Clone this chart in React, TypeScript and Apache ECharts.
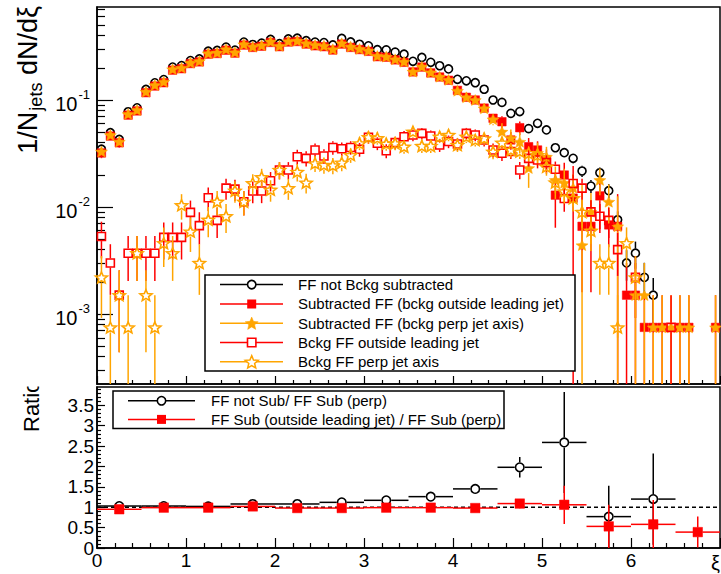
import React, { useEffect, useRef } from "react";
import * as echarts from "echarts";

const binCenters = [0.05,0.15,0.25,0.35,0.45,0.55,0.65,0.75,0.85,0.95,1.05,1.15,1.25,1.35,1.45,1.55,1.65,1.75,1.85,1.95,2.05,2.15,2.25,2.35,2.45,2.55,2.65,2.75,2.85,2.95,3.05,3.15,3.25,3.35,3.45,3.55,3.65,3.75,3.85,3.95,4.05,4.15,4.25,4.35,4.45,4.55,4.65,4.75,4.85,4.95,5.05,5.15,5.25,5.35,5.45,5.55,5.65,5.75,5.85,5.95,6.05,6.15,6.25,6.35,6.45,6.55,6.65,6.75,6.85,6.95];

const ffNotSub = [0.0347,0.0495,0.0428,0.0776,0.0845,0.1255,0.1448,0.1552,0.2030,0.2095,
 0.2335,0.2420,0.2860,0.2905,0.3120,0.2925,0.3480,0.3300,0.3400,0.3680,
 0.3360,0.3720,0.3780,0.3580,0.3480,0.3440,0.3270,0.3760,0.3490,0.3320,
 0.3210,0.2950,0.2940,0.2800,0.2680,0.2300,0.2500,0.2250,0.2090,0.1950,
 0.1560,0.1510,0.1450,0.1260,0.1000,0.0950,0.0750,0.0780,0.0540,0.0605,
 0.0525,0.0358,0.0322,0.0285,0.0217,0.0157,0.0209,0.0142,0.0076,0.0030,
 0.0037,0.0022,0.0015,null,null,null,null,null,null,null];
const ffNotSubErr = [0.0032,0.0039,0.0036,0.0048,0.0050,0.0061,0.0066,0.0068,0.0078,0.0079,
 0.0084,0.0085,0.0093,0.0093,0.0097,0.0094,0.0102,0.0099,0.0101,0.0105,
 0.0100,0.0106,0.0106,0.0104,0.0102,0.0102,0.0099,0.0106,0.0102,0.0100,
 0.0098,0.0094,0.0094,0.0092,0.0090,0.0083,0.0087,0.0082,0.0079,0.0076,
 0.0068,0.0067,0.0066,0.0061,0.0055,0.0053,0.0047,0.0048,0.0040,0.0043,
 0.0040,0.0033,0.0031,0.0029,0.0026,0.0022,0.0025,0.0021,0.0015,0.00095,
 0.00105,0.00081,0.00067,null,null,null,null,null,null,null];

const ffSubOut = [0.0320,0.0460,0.0398,0.0722,0.0790,0.1170,0.1350,0.1450,0.1900,0.1960,
 0.2190,0.2270,0.2680,0.2720,0.2920,0.2740,0.3260,0.3100,0.3180,0.3450,
 0.3150,0.3480,0.3520,0.3330,0.3210,0.3150,0.2930,0.3330,0.3100,0.2960,
 0.2850,0.2540,0.2510,0.2370,0.2250,0.1830,0.2030,0.1790,0.1640,0.1530,
 0.1230,0.1060,0.1000,0.0840,0.0675,0.0626,0.0423,0.0551,0.0366,0.0341,
 0.0275,0.0129,0.0199,0.0121,0.0066,0.0066,0.0127,0.0068,0.0066,0.0015,
 0.0015,0.00075,0.00075,0.00075,null,0.00075,0.00075,null,null,0.00075];
const ffSubOutErr = [0.0034,0.0041,0.0038,0.0051,0.0053,0.0065,0.0069,0.0072,0.0083,0.0084,
 0.0089,0.0091,0.0098,0.0099,0.0103,0.0099,0.0108,0.0105,0.0107,0.0112,
 0.0107,0.0112,0.0113,0.0110,0.0108,0.0107,0.0104,0.0112,0.0107,0.0104,
 0.0102,0.0097,0.0097,0.0094,0.0092,0.0085,0.0089,0.0084,0.0080,0.0078,
 0.0070,0.0068,0.0066,0.0062,0.0065,0.0080,0.0080,0.0080,0.0075,0.0070,
 0.0070,0.0065,0.0060,0.0120,0.0050,0.0050,0.0065,0.0026,0.0066,0.0015,
 0.0015,0.00075,0.00075,0.00075,null,0.00075,0.00075,null,null,0.00075];

const ffSubPerp = [0.0330,0.0471,0.0408,0.0740,0.0806,0.1196,0.1380,0.1480,0.1940,0.2000,
 0.2230,0.2310,0.2730,0.2770,0.2980,0.2790,0.3320,0.3150,0.3240,0.3510,
 0.3200,0.3540,0.3580,0.3390,0.3270,0.3210,0.2980,0.3390,0.3150,0.3000,
 0.2890,0.2580,0.2540,0.2400,0.2280,0.1840,0.2050,0.1810,0.1650,0.1540,
 0.1220,0.1060,0.1000,0.0835,0.0660,0.0506,0.0441,0.0407,0.0231,0.0320,
 0.0295,0.0179,0.0168,0.0151,0.0044,0.0090,0.0179,0.0112,0.0066,null,
 0.0015,0.0015,0.00075,0.00075,0.00075,0.00075,0.00075,null,null,0.00075];
const ffSubPerpErr = [0.0034,0.0041,0.0038,0.0051,0.0053,0.0065,0.0069,0.0072,0.0083,0.0084,
 0.0089,0.0091,0.0098,0.0099,0.0103,0.0099,0.0108,0.0105,0.0107,0.0112,
 0.0107,0.0112,0.0113,0.0110,0.0108,0.0107,0.0104,0.0112,0.0107,0.0104,
 0.0102,0.0097,0.0097,0.0094,0.0092,0.0085,0.0089,0.0084,0.0080,0.0078,
 0.0070,0.0068,0.0066,0.0062,0.0080,0.0100,0.0090,0.0090,0.0080,0.0080,
 0.0070,0.0060,0.0060,0.0050,0.0120,0.0045,0.0050,0.0050,0.0060,null,
 0.0015,0.0015,0.00075,0.00075,0.00075,0.00075,0.00075,null,null,0.00075];

const bkgOut = [0.0053,0.0030,0.0015,0.0037,0.0037,0.0037,0.0037,0.0052,0.0052,0.0052,
 0.0089,0.0067,0.0122,0.0075,0.0150,0.0147,0.0112,0.0141,0.0141,0.0176,
 0.0222,0.0222,0.0295,0.0285,0.0341,0.0300,0.0360,0.0350,0.0360,0.0346,
 0.0448,0.0394,0.0336,0.0400,0.0454,0.0471,0.0488,0.0461,0.0380,0.0410,
 0.0388,0.0488,0.0471,0.0423,0.0341,0.0318,0.0330,0.0222,0.0285,0.0275,
 0.0260,0.0225,0.0120,0.0166,0.0150,0.0090,0.0082,0.0075,0.0040,null,
 0.0022,null,null,null,0.00075,null,null,null,null,null];
const bkgOutErr = [0.00199,0.00149,0.00106,0.00166,0.00166,0.00166,0.00166,0.00197,0.00197,0.00197,
 0.00258,0.00223,0.00301,0.00236,0.00334,0.00331,0.00289,0.00324,0.00324,0.00362,
 0.00407,0.00407,0.00469,0.00461,0.00504,0.00473,0.00518,0.00511,0.00518,0.00508,
 0.00578,0.00542,0.00500,0.00546,0.00582,0.00592,0.00603,0.00586,0.00532,0.00553,
 0.00538,0.00603,0.00592,0.00561,0.00504,0.00487,0.00496,0.00407,0.00461,0.00453,
 0.00440,0.00409,0.00299,0.00352,0.00334,0.00259,0.00247,0.00236,0.00173,null,
 0.00128,null,null,null,0.00075,null,null,null,null,null];

const bkgPerp = [0.0022,0.00075,0.0015,0.00075,0.0037,0.0015,0.00075,0.0046,0.0037,0.0104,
 0.0059,0.0030,0.0076,0.0112,0.0082,0.0142,0.0112,0.0167,0.0190,0.0145,
 0.0222,0.0150,0.0213,0.0169,0.0256,0.0247,0.0245,0.0260,0.0306,0.0394,
 0.0450,0.0440,0.0390,0.0394,0.0366,0.0506,0.0372,0.0372,0.0454,0.0471,
 0.0380,0.0454,0.0423,0.0438,0.0329,0.0400,0.0341,0.0330,0.0318,0.0306,
 0.0238,0.0170,0.0140,0.0121,0.0090,0.0060,0.0030,0.0030,0.00075,0.0046,
 0.0022,null,null,null,null,null,null,null,null,null];
const bkgPerpErr = [0.00128,0.00075,0.00106,0.00075,0.00166,0.00106,0.00075,0.00185,0.00166,0.00278,
 0.00210,0.00149,0.00238,0.00289,0.00247,0.00325,0.00289,0.00353,0.00376,0.00329,
 0.00407,0.00334,0.00398,0.00355,0.00437,0.00429,0.00427,0.00440,0.00477,0.00542,
 0.00579,0.00573,0.00539,0.00542,0.00522,0.00614,0.00526,0.00526,0.00582,0.00592,
 0.00532,0.00582,0.00561,0.00571,0.00495,0.00546,0.00504,0.00496,0.00487,0.00477,
 0.00421,0.00356,0.00323,0.00300,0.00259,0.00211,0.00149,0.00149,0.00075,0.00185,
 0.00128,null,null,null,null,null,null,null,null,null];

const ratioX = [0.25,0.75,1.25,1.75,2.25,2.75,3.25,3.75,4.25,4.75,5.25,5.75,6.25,6.75];
const ratioXErr = [0.25,0.25,0.25,0.25,0.25,0.25,0.25,0.25,0.25,0.25,0.25,0.25,0.25,0.25];
const ratioNotSub = [1.03,1.03,1.02,1.08,1.08,1.12,1.17,1.26,1.45,1.98,2.59,0.77,1.20,null];
const ratioNotSubErr = [0.01,0.01,0.01,0.01,0.01,0.015,0.02,0.03,0.05,0.25,1.24,0.76,1.12,null];
const ratioSubOut = [0.95,0.99,0.99,1.02,0.98,0.98,0.99,0.99,0.98,1.09,1.06,0.53,0.58,0.39];
const ratioSubOutErr = [0.01,0.01,0.01,0.01,0.01,0.01,0.02,0.02,0.03,0.12,0.47,0.53,0.6,0.38];

const topExponents = [-3, -2, -1];
const ratioMajorTicks = [0, 0.5, 1, 1.5, 2, 2.5, 3, 3.5];
const ratioMinorTicks = [0.1,0.2,0.3,0.4,0.6,0.7,0.8,0.9,1.1,1.2,1.3,1.4,1.6,1.7,1.8,1.9,2.1,2.2,2.3,2.4,2.6,2.7,2.8,2.9,3.1,3.2,3.3,3.4,3.6,3.7,3.8,3.9];
const xLabelValues = [0, 1, 2, 3, 4, 5, 6];

const legendTopLabels = [
  "FF not Bckg subtracted",
  "Subtracted FF (bckg outside leading jet)",
  "Subtracted FF (bckg perp jet axis)",
  "Bckg FF outside leading jet",
  "Bckg FF perp jet axis",
];
const legendBottomLabels = [
  "FF not Sub/ FF Sub (perp)",
  "FF Sub (outside leading jet) / FF Sub (perp)",
];

const FONT = '"Liberation Sans", Arial, Helvetica, sans-serif';
const Y_MIN = -3.654;
const Y_MAX = -0.131;
const R_MAX = 3.95;
const BLACK = "#000000";
const RED = "#ff0000";
const ORANGE = "#ffa500";
const OPEN_FILL = "rgba(255,255,255,0)";

const STAR_PTS = [[10,0],[12.645,6.359],[19.511,6.91],[14.28,11.391],[15.878,18.09],[10,14.5],[4.122,18.09],[5.72,11.391],[0.489,6.91],[7.355,6.359]];
const STAR_PATH = "path://M10 0L12.645 6.359L19.511 6.91L14.28 11.391L15.878 18.09L10 14.5L4.122 18.09L5.72 11.391L0.489 6.91L7.355 6.359Z";

function minorLogTicks() {
  const out: number[] = [];
  for (let n = -4; n <= -1; n++) {
    for (let m = 2; m <= 9; m++) {
      const v = Math.log10(m) + n;
      if (v > Y_MIN && v < Y_MAX) out.push(v);
    }
  }
  return out;
}

function seg(x1: number, y1: number, x2: number, y2: number, color: string) {
  return { type: "line", shape: { x1, y1, x2, y2 }, style: { stroke: color, lineWidth: 1.5 } };
}

type Spec = { vals: (number | null)[]; errs: (number | null)[]; color: string; symbol: string; size: any; filled: boolean; gap: number };

const topSpecs: Spec[] = [
  { vals: ffNotSub, errs: ffNotSubErr, color: BLACK, symbol: "circle", size: 8, filled: false, gap: 4.6 },
  { vals: ffSubOut, errs: ffSubOutErr, color: RED, symbol: "rect", size: 8.5, filled: true, gap: 4.3 },
  { vals: ffSubPerp, errs: ffSubPerpErr, color: ORANGE, symbol: STAR_PATH, size: [12, 11.4], filled: true, gap: 5 },
  { vals: bkgOut, errs: bkgOutErr, color: RED, symbol: "rect", size: 8, filled: false, gap: 4.6 },
  { vals: bkgPerp, errs: bkgPerpErr, color: ORANGE, symbol: STAR_PATH, size: [12, 11.4], filled: false, gap: 5 },
];

function buildTopSeries() {
  const series: any[] = [];
  topSpecs.forEach((sp, si) => {
    const errData: any[] = [];
    const ptData: any[] = [];
    sp.vals.forEach((v, i) => {
      if (v == null) return;
      ptData.push([binCenters[i], Math.log10(v)]);
      const e = sp.errs[i];
      if (e != null) errData.push([binCenters[i], Math.log10(v), e, v]);
    });
    series.push({
      type: "custom",
      xAxisIndex: 0,
      yAxisIndex: 0,
      z: 10 + si * 2,
      clip: true,
      silent: true,
      dimensions: ["x", "ly", "e", "v"],
      encode: { x: 0, y: 1 },
      renderItem: (_p: any, api: any) => {
        const x = api.value(0);
        const ly = api.value(1);
        const e = api.value(2);
        const v = api.value(3);
        const c = api.coord([x, ly]);
        const hi = api.coord([x, Math.min(Math.log10(v + e), Y_MAX)]);
        const low = v - e;
        const lo = api.coord([x, low > 0 ? Math.max(Math.log10(low), Y_MIN) : Y_MIN]);
        const children: any[] = [];
        if (hi[1] < c[1] - sp.gap) children.push(seg(c[0], hi[1], c[0], c[1] - sp.gap, sp.color));
        if (lo[1] > c[1] + sp.gap) children.push(seg(c[0], c[1] + sp.gap, c[0], lo[1], sp.color));
        return { type: "group", children };
      },
      data: errData,
    });
    series.push({
      type: "scatter",
      xAxisIndex: 0,
      yAxisIndex: 0,
      z: 11 + si * 2,
      silent: true,
      symbol: sp.symbol,
      symbolSize: sp.size,
      symbolKeepAspect: true,
      itemStyle: sp.filled
        ? { color: sp.color, borderColor: sp.color, borderWidth: 0.5, opacity: 1 }
        : { color: OPEN_FILL, borderColor: sp.color, borderWidth: 1.6, opacity: 1 },
      data: ptData,
    });
  });
  return series;
}

function buildRatioSeries() {
  const specs = [
    { vals: ratioNotSub, errs: ratioNotSubErr, color: BLACK, symbol: "circle", size: 8.5, filled: false, gap: 5 },
    { vals: ratioSubOut, errs: ratioSubOutErr, color: RED, symbol: "rect", size: 9.5, filled: true, gap: 4.7 },
  ];
  const series: any[] = [
    {
      type: "line",
      xAxisIndex: 1,
      yAxisIndex: 2,
      z: 5,
      silent: true,
      symbol: "none",
      lineStyle: { color: BLACK, width: 1.3, type: [4, 3] },
      data: [[0, 1], [7, 1]],
    },
  ];
  specs.forEach((sp, si) => {
    const errData: any[] = [];
    const ptData: any[] = [];
    sp.vals.forEach((v, i) => {
      if (v == null) return;
      ptData.push([ratioX[i], v]);
      errData.push([ratioX[i], v, sp.errs[i], ratioXErr[i]]);
    });
    series.push({
      type: "custom",
      xAxisIndex: 1,
      yAxisIndex: 2,
      z: 10 + si * 2,
      clip: true,
      silent: true,
      dimensions: ["x", "y", "e", "xe"],
      encode: { x: 0, y: 1 },
      renderItem: (_p: any, api: any) => {
        const x = api.value(0);
        const y = api.value(1);
        const e = api.value(2);
        const xe = api.value(3);
        const c = api.coord([x, y]);
        const hi = api.coord([x, Math.min(y + e, R_MAX)]);
        const lo = api.coord([x, Math.max(y - e, 0)]);
        const l = api.coord([x - xe, y]);
        const r = api.coord([x + xe, y]);
        const g = sp.gap;
        const children: any[] = [];
        if (hi[1] < c[1] - g) children.push(seg(c[0], hi[1], c[0], c[1] - g, sp.color));
        if (lo[1] > c[1] + g) children.push(seg(c[0], c[1] + g, c[0], lo[1], sp.color));
        if (l[0] < c[0] - g) children.push(seg(l[0], c[1], c[0] - g, c[1], sp.color));
        if (r[0] > c[0] + g) children.push(seg(c[0] + g, c[1], r[0], c[1], sp.color));
        return { type: "group", children };
      },
      data: errData,
    });
    series.push({
      type: "scatter",
      xAxisIndex: 1,
      yAxisIndex: 2,
      z: 11 + si * 2,
      silent: true,
      symbol: sp.symbol,
      symbolSize: sp.size,
      itemStyle: sp.filled
        ? { color: sp.color, borderColor: sp.color, borderWidth: 0.5, opacity: 1 }
        : { color: OPEN_FILL, borderColor: sp.color, borderWidth: 1.6, opacity: 1 },
      data: ptData,
    });
  });
  return series;
}

function starPolygon(cx: number, cy: number, size: number, fill: string, stroke: string, lw: number) {
  const s = size / 19.02;
  return {
    type: "polygon",
    z: 102,
    shape: { points: STAR_PTS.map(([px, py]) => [cx + (px - 10) * s, cy + (py - 9.045) * s]) },
    style: { fill, stroke, lineWidth: lw },
  };
}

function legendMarker(kind: string, cx: number, cy: number) {
  switch (kind) {
    case "openCircle":
      return { type: "circle", z: 102, shape: { cx, cy, r: 4.2 }, style: { fill: "#fff", stroke: BLACK, lineWidth: 1.6 } };
    case "fullSquare":
      return { type: "rect", z: 102, shape: { x: cx - 4.5, y: cy - 4.5, width: 9, height: 9 }, style: { fill: RED } };
    case "fullStar":
      return starPolygon(cx, cy, 13, ORANGE, ORANGE, 0.5);
    case "openSquare":
      return { type: "rect", z: 102, shape: { x: cx - 4.2, y: cy - 4.2, width: 8.4, height: 8.4 }, style: { fill: "#fff", stroke: RED, lineWidth: 1.6 } };
    default:
      return starPolygon(cx, cy, 13, "#fff", ORANGE, 1.5);
  }
}

function buildGraphics() {
  const els: any[] = [];
  const tl = { x: 205, y: 275, w: 370, h: 96, row0: 284.6, dy: 19.3, l1: 220, l2: 283, mx: 251.7, tx: 298 };
  els.push({ type: "rect", z: 100, shape: { x: tl.x, y: tl.y, width: tl.w, height: tl.h }, style: { fill: "#fff", stroke: BLACK, lineWidth: 1.5 } });
  const topKinds = ["openCircle", "fullSquare", "fullStar", "openSquare", "openStar"];
  const topColors = [BLACK, RED, ORANGE, RED, ORANGE];
  legendTopLabels.forEach((label, i) => {
    const y = tl.row0 + tl.dy * i;
    els.push({ type: "line", z: 101, shape: { x1: tl.l1, y1: y, x2: tl.l2, y2: y }, style: { stroke: topColors[i], lineWidth: 1.5 } });
    els.push(legendMarker(topKinds[i], tl.mx, y));
    els.push({ type: "text", z: 102, x: tl.tx, y, style: { text: label, fontSize: 15, fontFamily: FONT, fill: BLACK, verticalAlign: "middle", align: "left" } });
  });
  const bl = { x: 113, y: 391, w: 391, h: 37.5, row0: 400.8, dy: 18.6, l1: 128, l2: 195, mx: 161.5, tx: 211 };
  els.push({ type: "rect", z: 100, shape: { x: bl.x, y: bl.y, width: bl.w, height: bl.h }, style: { fill: "#fff", stroke: BLACK, lineWidth: 1.5 } });
  const botKinds = ["openCircle", "fullSquare"];
  const botColors = [BLACK, RED];
  legendBottomLabels.forEach((label, i) => {
    const y = bl.row0 + bl.dy * i;
    els.push({ type: "line", z: 101, shape: { x1: bl.l1, y1: y, x2: bl.l2, y2: y }, style: { stroke: botColors[i], lineWidth: 1.5 } });
    els.push(legendMarker(botKinds[i], bl.mx, y));
    els.push({ type: "text", z: 102, x: bl.tx, y, style: { text: label, fontSize: 15, fontFamily: FONT, fill: BLACK, verticalAlign: "middle", align: "left" } });
  });
  els.push({
    type: "text",
    z: 100,
    x: 28,
    y: 6,
    rotation: Math.PI / 2,
    style: {
      text: "1/N{sub|jets} dN/dξ",
      fontSize: 27,
      fontFamily: FONT,
      fill: BLACK,
      align: "right",
      verticalAlign: "middle",
      rich: {
        sub: { fontSize: 18, fontFamily: FONT, fill: BLACK, verticalAlign: "bottom", padding: [16, 0, 0, 1] },
      },
    },
  });
  els.push({
    type: "text",
    z: 100,
    x: 31,
    y: 432,
    rotation: Math.PI / 2,
    style: { text: "Ratio", fontSize: 22, fontFamily: FONT, fill: BLACK, align: "left", verticalAlign: "middle" },
  });
  els.push({ type: "rect", z: 101, shape: { x: 0, y: 350, width: 70, height: 36.5 }, style: { fill: "#fff" } });
  els.push({
    type: "text",
    z: 100,
    x: 711,
    y: 563,
    style: { text: "ξ", fontSize: 20, fontFamily: FONT, fill: BLACK, align: "left", verticalAlign: "middle" },
  });
  return els;
}

function buildOption() {
  const axisLine = { show: true, onZero: false, lineStyle: { color: BLACK, width: 1.5 } };
  const tickStyle = { color: BLACK, width: 1.2 };
  return {
    animation: false,
    backgroundColor: "#ffffff",
    grid: [
      { left: 97, top: 7, width: 623, height: 377, show: true, borderColor: BLACK, borderWidth: 1.5, backgroundColor: "rgba(0,0,0,0)", outerBoundsMode: "none", containLabel: false },
      { left: 97, top: 387, width: 623, height: 161, show: true, borderColor: BLACK, borderWidth: 1.5, backgroundColor: "rgba(0,0,0,0)", outerBoundsMode: "none", containLabel: false },
    ],
    xAxis: [
      {
        type: "value", gridIndex: 0, min: 0, max: 7, interval: 1,
        axisLine,
        axisTick: { show: true, inside: true, length: 8, lineStyle: tickStyle },
        minorTick: { show: true, splitNumber: 5, length: 4, lineStyle: tickStyle },
        axisLabel: { show: false },
        splitLine: { show: false },
        minorSplitLine: { show: false },
      },
      {
        type: "value", gridIndex: 1, min: 0, max: 7, interval: 1,
        axisLine,
        axisTick: { show: true, inside: true, length: 10, lineStyle: tickStyle },
        minorTick: { show: true, splitNumber: 5, length: 5, lineStyle: tickStyle },
        axisLabel: { show: true, customValues: xLabelValues, fontSize: 19, fontFamily: FONT, color: BLACK, margin: 3 },
        splitLine: { show: false },
        minorSplitLine: { show: false },
      },
    ],
    yAxis: [
      {
        type: "value", gridIndex: 0, position: "left", min: Y_MIN, max: Y_MAX,
        axisLine,
        axisTick: { show: true, inside: true, length: 16, lineStyle: tickStyle, customValues: topExponents },
        axisLabel: {
          show: true,
          customValues: topExponents,
          margin: 7,
          color: BLACK,
          formatter: (v: number) => "{b|10}{s|" + Math.round(v) + "}",
          rich: {
            b: { fontSize: 20, fontFamily: FONT, color: BLACK, padding: [8, 0, 0, 0] },
            s: { fontSize: 13, fontFamily: FONT, color: BLACK, verticalAlign: "top", padding: [2, 0, 0, 1] },
          },
        },
        splitLine: { show: false },
      },
      {
        type: "value", gridIndex: 0, position: "left", min: Y_MIN, max: Y_MAX,
        axisLine: { show: false },
        axisTick: { show: true, inside: true, length: 8, lineStyle: tickStyle, customValues: minorLogTicks() },
        axisLabel: { show: false },
        splitLine: { show: false },
      },
      {
        type: "value", gridIndex: 1, position: "left", min: 0, max: R_MAX,
        axisLine,
        axisTick: { show: true, inside: true, length: 8, lineStyle: tickStyle, customValues: ratioMajorTicks },
        axisLabel: { show: true, customValues: ratioMajorTicks, fontSize: 19, fontFamily: FONT, color: BLACK, margin: 3 },
        splitLine: { show: false },
      },
      {
        type: "value", gridIndex: 1, position: "left", min: 0, max: R_MAX,
        axisLine: { show: false },
        axisTick: { show: true, inside: true, length: 4, lineStyle: tickStyle, customValues: ratioMinorTicks },
        axisLabel: { show: false },
        splitLine: { show: false },
      },
    ],
    series: [...buildTopSeries(), ...buildRatioSeries()],
    graphic: { elements: buildGraphics() },
  };
}

export default function App() {
  const ref = useRef<HTMLDivElement>(null);
  useEffect(() => {
    if (!ref.current) return;
    const chart = echarts.init(ref.current, null, { renderer: "svg" });
    chart.setOption(buildOption() as any);
    return () => chart.dispose();
  }, []);
  return (
    <div
      ref={ref}
      style={{ position: "absolute", left: 0, top: 0, width: 721, height: 574, background: "#fff" }}
    />
  );
}
